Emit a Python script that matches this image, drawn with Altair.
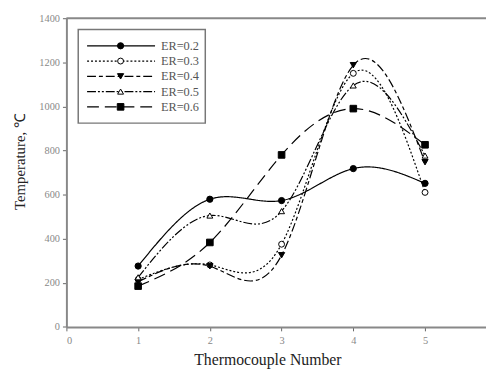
import altair as alt
import pandas as pd

# ---- data ----
thermocouple = [1, 2, 3, 4, 5]
series_names = ["ER=0.2", "ER=0.3", "ER=0.4", "ER=0.5", "ER=0.6"]
er02 = [276, 579, 573, 718, 651]
er03 = [215, 281, 375, 1150, 610]
er04 = [205, 275, 325, 1187, 747]
er05 = [225, 505, 525, 1095, 777]
er06 = [185, 383, 780, 990, 826]
x_ticks = [0, 1, 2, 3, 4, 5]
y_ticks = [0, 200, 400, 600, 800, 1000, 1200, 1400]

series_values = [er02, er03, er04, er05, er06]

# ---- styles ----
dashes = [[1, 0], [2, 2], [9, 3, 4, 3], [9, 2, 2, 2, 2, 2], [12, 6]]
shapes = ["circle", "circle", "triangle-down", "triangle-up", "square"]
fills = ["black", "white", "black", "white", "black"]
sizes = [40, 36, 40, 36, 45]

W, H = 426, 313.4
SERIF = "Liberation Serif"

xscale = alt.Scale(domain=[0, 5.85], nice=False, zero=False)
yscale = alt.Scale(domain=[0, 1400], nice=False)

xaxis = alt.Axis(values=x_ticks, format="d", title="Thermocouple Number",
                 domainColor="#888", domainWidth=2, tickColor="#666", tickSize=4,
                 labelFont=SERIF, labelFontSize=10.5, labelColor="#888", labelPadding=5,
                 titleFont=SERIF, titleFontSize=16, titleFontWeight="normal",
                 titleColor="#222", titleX=204, titleY=25, grid=False)
yaxis = alt.Axis(values=y_ticks, format="d", title="Temperature, \u2103",
                 domainColor="#888", domainWidth=2, tickColor="#666", tickSize=4,
                 labelFont=SERIF, labelFontSize=10.5, labelColor="#888", labelPadding=3,
                 titleFont=SERIF, titleFontSize=15, titleFontWeight="normal",
                 titleColor="#222", titleX=-40, titleY=145, grid=False)

layers = []
for name, vals, dash, shp, fl, sz in zip(series_names, series_values, dashes, shapes, fills, sizes):
    df = pd.DataFrame({"x": thermocouple, "y": vals, "series": name})
    base = alt.Chart(df)
    xenc = alt.X("x:Q", scale=xscale, axis=xaxis)
    yenc = alt.Y("y:Q", scale=yscale, axis=yaxis)
    line = base.mark_line(interpolate="natural", color="black", strokeWidth=1.2,
                          strokeDash=dash).encode(x=xenc, y=yenc)
    pts = base.mark_point(shape=shp, filled=True, fill=fl, stroke="black",
                          strokeWidth=1, size=sz, opacity=1).encode(x=xenc, y=yenc)
    layers += [line, pts]

# top frame line
layers.append(alt.Chart().mark_rule(color="#888", strokeWidth=2).encode(
    x=alt.value(0), x2=alt.value(W), y=alt.value(0)))

# legend box
layers.append(alt.Chart().mark_rect(fill="white", stroke="#777", strokeWidth=1.5).encode(
    x=alt.value(12), x2=alt.value(141), y=alt.value(11.5), y2=alt.value(106.5)))

row_y = [28, 43.5, 59, 74.5, 90]
for name, ry, dash, shp, fl, sz in zip(series_names, row_y, dashes, shapes, fills, sizes):
    layers.append(alt.Chart().mark_rule(color="black", strokeWidth=1.2, strokeDash=dash).encode(
        x=alt.value(21), x2=alt.value(90), y=alt.value(ry)))
    layers.append(alt.Chart().mark_point(shape=shp, filled=True, fill=fl, stroke="black",
                                         strokeWidth=1, size=sz, opacity=1).encode(
        x=alt.value(55), y=alt.value(ry)))
    layers.append(alt.Chart().mark_text(align="left", baseline="middle", font=SERIF,
                                        fontSize=12.5, color="#555").encode(
        x=alt.value(96), y=alt.value(ry), text=alt.value(name)))

chart = alt.layer(*layers).properties(
    width=W, height=H,
    background="white",
    autosize=alt.AutoSizeParams(type="none"),
    padding={"left": 59.3, "top": 7.6, "right": 0, "bottom": 42},
).configure_view(stroke=None)

chart.save("out.html", embed_options={"renderer": "svg", "actions": False})
